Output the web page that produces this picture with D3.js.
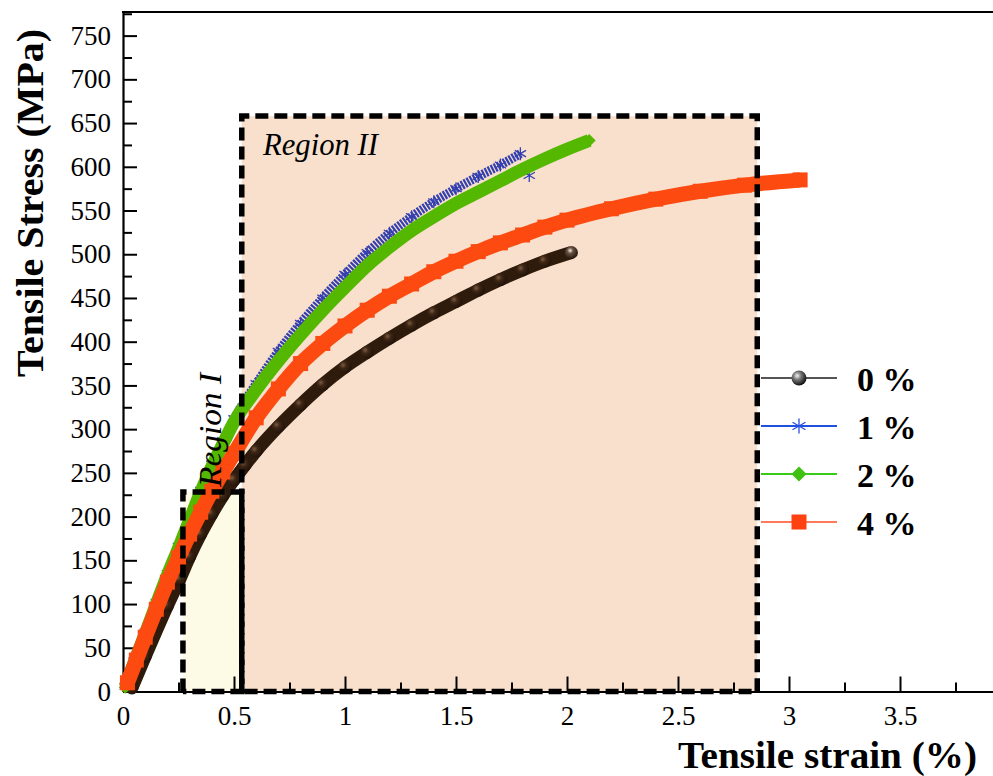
<!DOCTYPE html>
<html><head><meta charset="utf-8">
<script src="https://cdn.jsdelivr.net/npm/d3@7"></script>
<style>body{margin:0;background:#fff} svg{display:block}</style>
</head><body>
<svg id="chart" width="993" height="776"></svg>
<script>
// ---------- data ----------
const xTickValues = [0, 0.5, 1, 1.5, 2, 2.5, 3, 3.5];
const xTickLabels = ["0", "0.5", "1", "1.5", "2", "2.5", "3", "3.5"];
const xMinorTicks = [0.25, 0.75, 1.25, 1.75, 2.25, 2.75, 3.25, 3.75];
const yTickValues = [0, 50, 100, 150, 200, 250, 300, 350, 400, 450, 500, 550, 600, 650, 700, 750];
const yMinorTicks = [25, 75, 125, 175, 225, 275, 325, 375, 425, 475, 525, 575, 625, 675, 725, 775];

const seriesNames = ["0 %", "1 %", "2 %", "4 %"];

const strain0 = [0.04, 0.10, 0.20, 0.255, 0.30, 0.35, 0.40, 0.45, 0.50, 0.55, 0.60, 0.70, 0.80, 0.90, 1.00, 1.10, 1.20, 1.30, 1.40, 1.50, 1.60, 1.70, 1.80, 1.90, 2.02];
const stress0 = [4, 40, 98, 128, 154, 180, 203, 224, 242, 259, 275, 303, 328, 351, 371, 388, 404, 419, 433, 446, 459, 471, 482, 492, 502];

const strain1 = [0.01, 0.05, 0.10, 0.15, 0.20, 0.25, 0.30, 0.35, 0.40, 0.45, 0.50, 0.60, 0.70, 0.80, 0.90, 1.00, 1.10, 1.20, 1.30, 1.40, 1.50, 1.60, 1.70, 1.79, 1.83];
const stress1 = [6, 35, 68, 102, 135, 166, 198, 230, 260, 287, 312, 352, 389, 421, 450, 477, 502, 524, 543, 560, 575, 589, 602, 615, 590];

const strain2 = [0.01, 0.05, 0.10, 0.15, 0.20, 0.25, 0.30, 0.35, 0.40, 0.45, 0.50, 0.60, 0.70, 0.80, 0.90, 1.00, 1.10, 1.20, 1.30, 1.40, 1.50, 1.60, 1.70, 1.80, 1.90, 2.00, 2.10];
const stress2 = [5, 33, 66, 100, 133, 164, 196, 228, 257, 283, 308, 345, 378, 408, 436, 462, 487, 508, 527, 543, 558, 571, 584, 597, 609, 620, 630];

const strain4 = [0.02, 0.06, 0.10, 0.15, 0.20, 0.25, 0.30, 0.35, 0.40, 0.45, 0.50, 0.60, 0.70, 0.80, 0.90, 1.00, 1.10, 1.20, 1.30, 1.40, 1.50, 1.60, 1.70, 1.80, 1.90, 2.00, 2.20, 2.40, 2.60, 2.80, 3.05];
const stress4 = [10, 36, 62, 94, 125, 153, 180, 205, 229, 251, 272, 313, 346, 375, 398, 418, 436, 452, 466, 480, 492, 503, 513, 522, 531, 539, 552, 563, 572, 579, 585];

const regionNames = ["Region I", "Region II"];
const regionX0 = [0.27, 0.535];
const regionX1 = [0.535, 2.857];
const regionTop = [228, 658];

const xTitle = "Tensile strain (%)";
const yTitle = "Tensile Stress (MPa)";

// ---------- setup ----------
const W = 993, H = 776;
const svg = d3.select("#chart");
const serif = "'Liberation Serif','Times New Roman',serif";
const x = d3.scaleLinear().domain([0, 4]).range([123, 1011]);
const y = d3.scaleLinear().domain([0, 777]).range([691.5, 12]);

const defs = svg.append("defs");
function grad(id, stops, cx) {
  const g = defs.append("radialGradient").attr("id", id).attr("cx", cx).attr("cy", "35%").attr("r", "65%");
  stops.forEach(s => g.append("stop").attr("offset", s[0]).attr("stop-color", s[1]));
}
grad("ballDark", [["0%", "#7a5a42"], ["40%", "#3e2614"], ["100%", "#22130a"]], "35%");
grad("ballEnd", [["0%", "#f2eee8"], ["35%", "#6a5040"], ["100%", "#24150a"]], "40%");
grad("ballLegend", [["0%", "#f4f4f4"], ["40%", "#7a7a7a"], ["100%", "#111"]], "38%");

// ---------- region fills ----------
const regionFill = ["#fdfbe5", "#f8e0cd"];
const regions = regionNames.map((n, i) => ({name: n, x0: regionX0[i], x1: regionX1[i], top: regionTop[i], fill: regionFill[i]}));
svg.append("g").selectAll("rect").data(regions).join("rect")
  .attr("x", d => x(d.x0)).attr("y", d => y(d.top))
  .attr("width", d => x(d.x1) - x(d.x0)).attr("height", d => y(0) - y(d.top))
  .attr("fill", d => d.fill);

// ---------- axes ----------
const axG = svg.append("g");
axG.append("g").attr("transform", `translate(${x(0)},0)`)
  .call(d3.axisLeft(y).tickValues(yTickValues).tickSize(-14).tickSizeOuter(0).tickPadding(12));
axG.append("g").attr("transform", `translate(${x(0)},0)`)
  .call(d3.axisLeft(y).tickValues(yMinorTicks.filter(v => v <= 777)).tickSize(-9).tickFormat(""))
  .call(g => g.select(".domain").remove());
axG.append("g").attr("transform", `translate(0,${y(0)})`)
  .call(d3.axisBottom(x).tickValues(xTickValues).tickSize(-15).tickSizeOuter(0).tickPadding(14)
    .tickFormat((d, i) => xTickLabels[i]));
axG.append("g").attr("transform", `translate(0,${y(0)})`)
  .call(d3.axisBottom(x).tickValues(xMinorTicks).tickSize(-9).tickFormat(""))
  .call(g => g.select(".domain").remove());
axG.selectAll("g").attr("font-family", serif);
axG.selectAll(".domain").attr("stroke", "#000").attr("stroke-width", 2.2);
axG.selectAll(".tick line").attr("stroke", "#000").attr("stroke-width", 2);
axG.selectAll(".tick text").style("font-family", serif).style("font-size", "27px").attr("fill", "#000");
// top border
svg.append("line").attr("x1", x(0) - 1).attr("x2", W).attr("y1", y(777)).attr("y2", y(777))
  .attr("stroke", "#000").attr("stroke-width", 2.2);

// ---------- curves ----------
const series = [
  {name: seriesNames[0], xs: strain0, ys: stress0, color: "#2e1b0b", width: 13, marker: "ball"},
  {name: seriesNames[1], xs: strain1, ys: stress1, color: "#3440b0", width: 9, marker: "asterisk"},
  {name: seriesNames[2], xs: strain2, ys: stress2, color: "#55b800", width: 13, marker: "diamond"},
  {name: seriesNames[3], xs: strain4, ys: stress4, color: "#fd4a10", width: 15, marker: "square"}
];
const line = d3.line().x(d => x(d[0])).y(d => y(d[1])).curve(d3.curveMonotoneX);
function asteriskPath(r) {
  const s = r * Math.sin(Math.PI / 3), c = r * Math.cos(Math.PI / 3);
  return `M0,${-r}L0,${r}M${-s},${-c}L${s},${c}M${-s},${c}L${s},${-c}`;
}
function drawMarker(sel, type, color, size, fillId) {
  if (type === "ball") {
    sel.append("circle").attr("r", size / 2).attr("fill", `url(#${fillId})`);
  } else if (type === "asterisk") {
    sel.append("path").attr("d", asteriskPath(size / 2)).attr("stroke", color).attr("stroke-width", 1.3).attr("fill", "none");
  } else if (type === "diamond") {
    const r = size / 2;
    sel.append("path").attr("d", `M0,${-r}L${r},0L0,${r}L${-r},0Z`).attr("fill", color);
  } else if (type === "square") {
    sel.append("rect").attr("x", -size / 2).attr("y", -size / 2).attr("width", size).attr("height", size).attr("fill", color);
  }
}
const curveG = svg.append("g");
series.forEach(s => {
  const pts = s.xs.map((v, i) => [v, s.ys[i]]);
  const g = curveG.append("g");
  const linePts = s.marker === "asterisk" ? pts.slice(0, -1) : pts;
  const lineSel = g.append("path").datum(linePts).attr("d", line).attr("fill", "none")
    .attr("stroke", s.color).attr("stroke-width", s.width).attr("stroke-linejoin", "round");
  if (s.marker === "asterisk") lineSel.attr("stroke-dasharray", "2.2,1.2");
  const n = pts.length;
  const mk = g.selectAll("g.pt").data(pts).join("g").attr("class", "pt")
    .attr("transform", d => `translate(${x(d[0])},${y(d[1])})`);
  mk.each(function(d, i) {
    drawMarker(d3.select(this), s.marker, s.color, s.marker === "square" ? 15 : 13,
      s.marker === "ball" ? (i === n - 1 ? "ballEnd" : "ballDark") : null);
  });
});

// ---------- region outlines & labels ----------
svg.append("g").selectAll("path").data(regions).join("path")
  .attr("d", d => `M${x(d.x0)},${y(0)}V${y(d.top)}H${x(d.x1)}V${y(0)}H${x(d.x0)}`)
  .attr("fill", "none").attr("stroke", "#000").attr("stroke-width", 5.5)
  .attr("stroke-dasharray", "13,6");
svg.append("text").attr("x", 263).attr("y", 155).attr("font-family", serif).attr("font-style", "italic")
  .attr("font-size", 31).attr("textLength", 115).attr("lengthAdjust", "spacingAndGlyphs").text(regionNames[1]);
svg.append("text").attr("transform", "translate(221,487) rotate(-90)").attr("font-family", serif).attr("font-style", "italic")
  .attr("font-size", 32).attr("textLength", 114).attr("lengthAdjust", "spacingAndGlyphs").text(regionNames[0]);

// ---------- titles ----------
svg.append("text").attr("x", 678).attr("y", 768).attr("font-family", serif).attr("font-weight", "bold")
  .attr("font-size", 38).attr("textLength", 299).attr("lengthAdjust", "spacingAndGlyphs").text(xTitle);
svg.append("text").attr("transform", "translate(43,377) rotate(-90)").attr("font-family", serif).attr("font-weight", "bold")
  .attr("font-size", 38).attr("textLength", 348).attr("lengthAdjust", "spacingAndGlyphs").text(yTitle);

// ---------- legend ----------
const legendLineColors = ["#555555", "#2050e0", "#38cc18", "#ff7a5a"];
const legendMarkerColors = ["#333", "#2a50e0", "#40c010", "#ff4010"];
const legendY = [378, 426, 474, 522];
const lg = svg.append("g");
series.forEach((s, i) => {
  const row = lg.append("g").attr("transform", `translate(0,${legendY[i]})`);
  row.append("line").attr("x1", 761).attr("x2", 837).attr("stroke", legendLineColors[i]).attr("stroke-width", 1.8);
  const m = row.append("g").attr("transform", "translate(799,0)");
  drawMarker(m, s.marker, legendMarkerColors[i], 15, "ballLegend");
  row.append("text").attr("x", 857).attr("y", 13).attr("font-family", serif).attr("font-weight", "bold")
    .attr("font-size", 34).text(s.name);
});
</script>
</body></html>
